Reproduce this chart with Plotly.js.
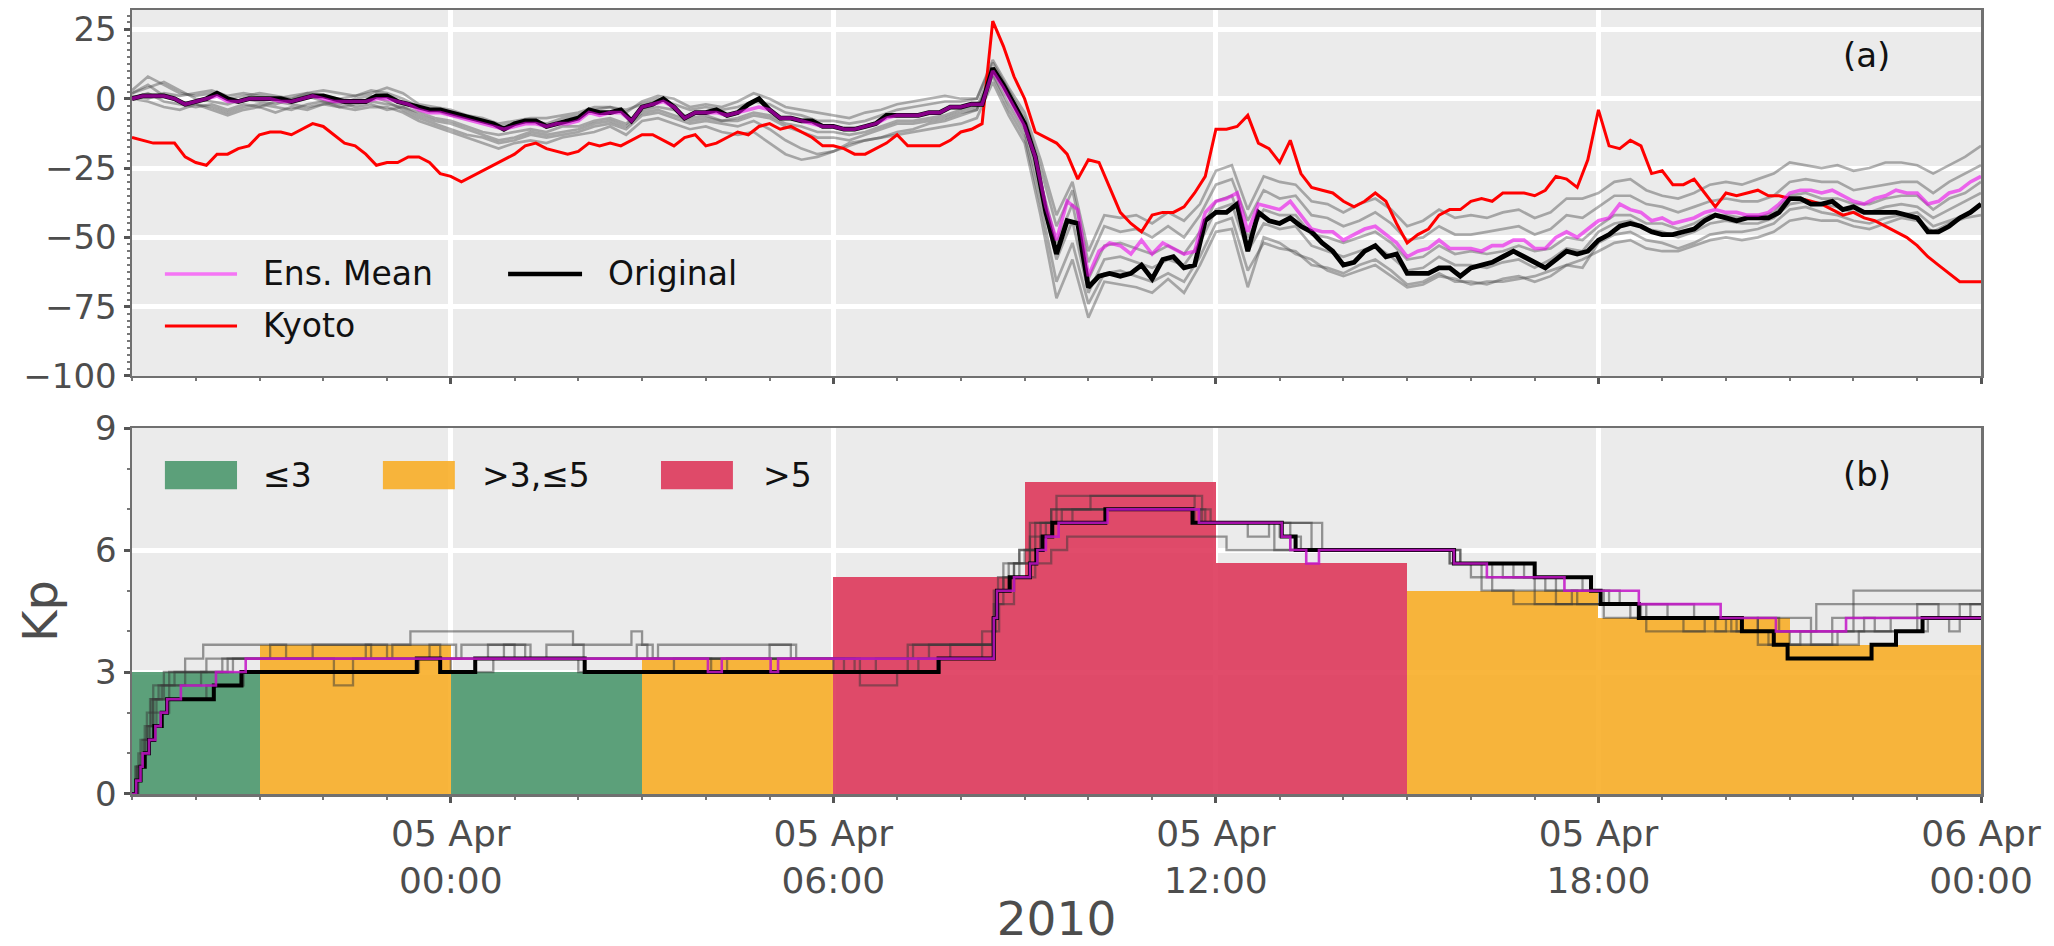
<!DOCTYPE html>
<html>
<head>
<meta charset="utf-8">
<script src="https://cdn.plot.ly/plotly-3.0.1.min.js"></script>
<style>
  html, body { margin: 0; padding: 0; background: #ffffff; }
  #chart { width: 2054px; height: 946px; }
</style>
</head>
<body>
<div id="chart"></div>
<script>
// ---------------------------------------------------------------
// Panel (a): Dst-like index, 10-minute samples,
// 2010-04-04 19:00 .. 2010-04-06 00:00 (one row per hour)
// ---------------------------------------------------------------
const kyoto = [
  -14,-15,-16,-16,-16,-21,   // 04 Apr 19h
  -23,-24,-20,-20,-18,-17,   // 20h
  -13,-12,-12,-13,-11,-9,    // 21h
  -10,-13,-16,-17,-20,-24,   // 22h
  -23,-23,-21,-21,-23,-27,   // 23h
  -28,-30,-28,-26,-24,-22,   // 05 Apr 00h
  -20,-17,-16,-18,-19,-20,
  -19,-16,-17,-16,-17,-15,
  -13,-13,-15,-17,-14,-13,
  -17,-16,-14,-12,-13,-10,
  -9,-11,-10,-12,-14,-17,
  -17,-18,-20,-20,-18,-16,
  -13,-17,-17,-17,-17,-15,
  -12,-11,-9,28,19,8,        // 08h
  0,-12,-14,-16,-20,-29,
  -22,-23,-32,-41,-45,-48,
  -42,-41,-41,-39,-34,-28,
  -11,-11,-10,-6,-16,-18,    // 12h
  -23,-15,-27,-32,-33,-34,
  -37,-39,-37,-34,-37,-45,
  -52,-49,-47,-42,-40,-40,
  -37,-36,-37,-34,-34,-34,
  -35,-33,-28,-29,-32,-22,
  -4,-17,-18,-15,-17,-27,    // 18h
  -26,-31,-31,-29,-34,-39,
  -34,-35,-34,-33,-35,-35,
  -36,-36,-37,-38,-40,-42,
  -41,-43,-44,-46,-48,-50,
  -53,-57,-60,-63,-66,-66,
  -66                        // 06 Apr 00h
];

const original = [
  0,1,1,1,0,-2,
  -1,0,2,0,-1,0,
  0,0,0,-1,0,1,
  1,0,-1,-1,-1,1,
  1,-1,-2,-3,-4,-4,
  -5,-6,-7,-8,-9,-11,
  -9,-8,-8,-10,-9,-8,
  -7,-4,-5,-5,-4,-8,
  -3,-2,0,-3,-7,-5,
  -5,-4,-6,-5,-2,0,
  -4,-7,-7,-8,-8,-10,
  -10,-11,-11,-10,-9,-6,
  -6,-6,-6,-5,-5,-3,
  -3,-2,-2,11,5,-2,
  -9,-21,-41,-56,-44,-45,
  -68,-64,-63,-64,-63,-60,
  -65,-58,-57,-61,-60,-44,
  -41,-41,-38,-55,-41,-44,
  -45,-43,-46,-48,-52,-55,
  -60,-59,-55,-53,-57,-56,
  -63,-63,-63,-61,-61,-64,
  -61,-60,-59,-57,-55,-57,
  -59,-61,-58,-55,-56,-55,
  -51,-49,-46,-45,-46,-48,
  -49,-49,-48,-47,-44,-42,
  -43,-44,-43,-43,-43,-41,
  -36,-36,-38,-38,-37,-40,
  -39,-41,-41,-41,-41,-42,
  -43,-48,-48,-46,-43,-41,
  -38
];

const ensMean = [
  0,1,1,1,0,-2,
  -1,0,1,-1,-1,0,
  0,0,-1,-1,0,1,
  0,-1,-1,-1,-1,0,
  0,-1,-2,-4,-5,-5,
  -6,-7,-8,-9,-10,-11,
  -10,-9,-9,-10,-9,-9,
  -8,-5,-6,-5,-5,-8,
  -3,-2,-1,-3,-7,-5,
  -5,-5,-6,-5,-4,-3,
  -4,-7,-7,-8,-9,-10,
  -10,-11,-11,-10,-9,-7,
  -6,-6,-6,-5,-5,-3,
  -3,-2,-2,10,4,-3,
  -10,-21,-39,-51,-37,-40,
  -64,-55,-52,-53,-56,-51,
  -56,-52,-54,-56,-55,-41,
  -37,-36,-34,-48,-38,-39,
  -40,-37,-42,-47,-48,-48,
  -51,-49,-47,-46,-49,-52,
  -57,-55,-54,-51,-54,-54,
  -54,-55,-53,-53,-51,-51,
  -54,-54,-50,-48,-50,-47,
  -44,-43,-38,-40,-41,-44,
  -43,-45,-44,-43,-41,-40,
  -41,-41,-42,-42,-41,-38,
  -34,-33,-33,-34,-33,-35,
  -37,-38,-36,-35,-33,-34,
  -34,-38,-37,-34,-33,-30,
  -28
];

// Ensemble members, 15-minute samples over the same window
const ens1 = [
  3,8,5,2,1,2,0,1,2,1,0,2,1,0,1,3,2,
  0,-3,-4,-6,-7,-8,-10,-9,-8,-9,-7,-6,-4,-3,-5,
  -1,1,0,-3,-2,-3,-1,2,0,-3,-4,-5,-6,-7,-5,-4,-2,-1,0,1,0,0,
  14,4,-5,-22,-42,-30,-55,-42,-43,-42,-45,-41,-44,-38,-26,-24,
  -40,-28,-30,-31,-37,-38,-41,-38,-36,-40,-46,-44,-40,-43,-42,-43,-41,-40,-43,-41,-36,-36,
  -34,-30,-29,-33,-35,-36,-34,-31,-30,-31,-29,-27,-23,-24,-25,-24,-26,-25,-23,-23,-24,-27,-24,-21,-17
];
const ens2 = [
  2,4,6,3,0,-1,-2,0,-1,-2,0,1,-1,-2,0,1,-1,
  -4,-7,-9,-11,-13,-14,-16,-15,-13,-14,-13,-12,-10,-9,-11,
  -6,-5,-7,-9,-8,-9,-10,-8,-11,-15,-18,-20,-19,-17,-15,-14,-12,-11,-9,-8,-6,-4,
  8,-4,-14,-38,-66,-52,-74,-63,-62,-64,-66,-63,-66,-57,-45,-43,
  -62,-52,-54,-55,-60,-61,-63,-60,-58,-62,-67,-66,-63,-66,-66,-67,-65,-64,-66,-64,-60,-61,
  -52,-49,-48,-51,-52,-54,-52,-49,-48,-48,-47,-45,-40,-39,-41,-42,-44,-45,-43,-42,-41,-46,-44,-42,-38
];
const ens3 = [
  0,-1,-3,-4,-2,-3,-5,-3,-2,-3,-4,-2,-1,-3,-2,-1,-2,
  -3,-5,-7,-8,-10,-12,-13,-12,-11,-12,-10,-10,-8,-7,-9,
  -4,-3,-4,-7,-6,-8,-7,-5,-6,-9,-10,-12,-12,-13,-12,-10,-8,-8,-7,-6,-4,-3,
  11,1,-9,-30,-52,-38,-65,-53,-52,-54,-56,-53,-56,-48,-37,-35,
  -50,-40,-42,-42,-49,-50,-52,-50,-48,-52,-58,-57,-53,-56,-55,-56,-55,-53,-55,-54,-50,-51,
  -46,-42,-42,-45,-45,-47,-45,-42,-42,-43,-43,-41,-35,-34,-36,-36,-38,-38,-36,-35,-35,-40,-36,-34,-30
];
const ens4 = [
  1,0,2,1,2,3,1,2,1,0,1,2,3,2,1,2,4,
  2,-2,-3,-4,-6,-7,-9,-8,-7,-7,-6,-5,-3,-3,-4,
  -2,0,-2,-4,-3,-4,-3,-1,-2,-5,-6,-8,-8,-9,-8,-6,-4,-3,-2,-1,-1,0,
  13,3,-7,-25,-46,-33,-59,-46,-48,-47,-50,-46,-50,-42,-31,-29,
  -44,-33,-36,-35,-42,-43,-46,-44,-41,-45,-51,-50,-46,-49,-49,-48,-47,-46,-49,-47,-42,-43,
  -39,-35,-35,-38,-39,-41,-39,-37,-36,-37,-37,-35,-30,-29,-30,-30,-33,-32,-31,-30,-30,-34,-30,-27,-24
];
const ens5 = [
  0,2,-1,-2,-3,-2,-4,-2,-3,-1,-2,-3,-2,-3,-4,-3,-3,
  -5,-8,-10,-12,-14,-16,-18,-16,-15,-16,-14,-13,-12,-10,-13,
  -8,-7,-9,-11,-10,-12,-13,-12,-16,-20,-22,-21,-19,-16,-15,-14,-13,-12,-11,-10,-9,-7,
  6,-6,-16,-42,-72,-58,-79,-66,-67,-68,-70,-65,-70,-60,-48,-47,
  -68,-50,-52,-56,-58,-62,-64,-62,-60,-64,-68,-67,-64,-65,-67,-66,-66,-65,-64,-62,-60,-58,
  -55,-52,-51,-54,-55,-55,-53,-51,-50,-51,-50,-48,-44,-43,-44,-44,-46,-47,-45,-43,-44,-48,-45,-43,-42
];
const ens6 = [
  2,5,1,-1,-2,-4,-6,-4,-3,-5,-3,-4,-2,-1,-3,-2,-4,
  -3,-6,-8,-9,-11,-13,-15,-14,-12,-13,-12,-11,-9,-8,-10,
  -5,-4,-6,-8,-7,-8,-8,-6,-7,-10,-12,-14,-14,-15,-13,-11,-9,-9,-8,-7,-5,-4,
  9,-2,-12,-34,-58,-44,-70,-58,-57,-59,-61,-58,-60,-52,-40,-38,
  -55,-45,-47,-46,-53,-55,-57,-55,-53,-57,-62,-61,-57,-60,-60,-61,-59,-58,-61,-58,-54,-55,
  -48,-45,-44,-47,-48,-50,-48,-45,-44,-45,-45,-43,-38,-37,-38,-39,-41,-41,-39,-38,-39,-43,-40,-37,-34
];
const ensembleDst = [ens1, ens2, ens3, ens4, ens5, ens6];

// ---------------------------------------------------------------
// Panel (b): Kp
// ---------------------------------------------------------------
// Official 3-hourly Kp (bar start, value)
const kpBarStart = ['2010-04-04 18:00','2010-04-04 21:00','2010-04-05 00:00','2010-04-05 03:00',
                    '2010-04-05 06:00','2010-04-05 09:00','2010-04-05 12:00','2010-04-05 15:00',
                    '2010-04-05 18:00','2010-04-05 21:00'];
const kpBarValue = [3.0, 3.67, 3.0, 3.33, 5.33, 7.67, 5.67, 5.0, 4.33, 3.67];

// Step series: [day-of-April HH:MM, Kp]
const kpOriginal = [
  ['04 19:00',0],['04 19:04',0.33],['04 19:08',0.67],['04 19:12',1.0],['04 19:16',1.33],
  ['04 19:21',1.67],['04 19:28',2.0],['04 19:33',2.33],['04 20:17',2.67],['04 20:43',3.0],
  ['04 23:28',3.33],['04 23:50',3.0],['05 00:23',3.33],['05 02:06',3.0],['05 07:39',3.33],
  ['05 08:31',4.33],['05 08:34',5.0],['05 08:46',5.33],['05 09:05',5.67],['05 09:11',6.0],
  ['05 09:17',6.33],['05 09:26',6.67],['05 10:16',7.0],['05 11:38',6.67],['05 13:02',6.33],
  ['05 13:15',6.0],['05 15:44',5.67],['05 17:00',5.33],['05 17:53',5.0],['05 18:02',4.67],
  ['05 18:38',4.33],['05 20:15',4.0],['05 20:45',3.67],['05 20:58',3.33],['05 22:17',3.67],
  ['05 22:40',4.0],['05 23:05',4.33],['06 00:00',4.33]
];
const kpMean = [
  ['04 19:00',0],['04 19:04',0.33],['04 19:08',0.67],['04 19:10',1.0],['04 19:16',1.33],
  ['04 19:22',1.67],['04 19:27',2.0],['04 19:33',2.33],['04 19:46',2.67],['04 20:19',3.0],
  ['04 20:47',3.33],['05 04:02',3.0],['05 04:15',3.33],['05 05:01',3.0],['05 05:08',3.33],
  ['05 08:31',4.33],['05 08:34',5.0],['05 08:50',5.33],['05 09:05',5.67],['05 09:12',6.0],
  ['05 09:20',6.33],['05 09:32',6.67],['05 10:18',7.0],['05 11:44',6.67],['05 13:02',6.33],
  ['05 13:10',6.0],['05 13:25',5.67],['05 13:37',6.0],['05 15:44',5.67],['05 16:15',5.33],
  ['05 17:28',5.0],['05 18:38',4.67],['05 19:55',4.33],['05 20:47',4.0],['05 21:53',4.33],
  ['06 00:00',4.33]
];
const kpEns1 = [
  ['04 19:00',0],['04 19:03',0.67],['04 19:08',1.33],['04 19:14',2.0],['04 19:20',2.67],
  ['04 19:30',3.0],['04 19:50',3.33],['04 20:07',3.67],['04 23:22',4.0],['05 01:55',3.67],
  ['05 02:50',4.0],['05 03:00',3.67],['05 03:10',3.33],['05 03:15',3.67],['05 05:25',3.33],
  ['05 06:20',3.0],['05 07:10',3.67],['05 08:20',4.0],['05 08:31',5.0],['05 08:40',5.67],
  ['05 08:55',6.0],['05 09:05',6.67],['05 09:25',7.0],['05 10:02',7.33],['05 11:47',6.67],
  ['05 13:40',6.0],['05 15:40',5.67],['05 16:10',5.0],['05 16:40',4.67],['05 17:35',5.0],
  ['05 18:05',4.67],['05 19:05',4.33],['05 20:15',4.0],['05 21:25',4.67],['06 00:00',4.67]
];
const kpEns2 = [
  ['04 19:00',0],['04 19:05',0.67],['04 19:10',1.33],['04 19:17',2.33],['04 19:25',2.67],
  ['04 19:40',3.0],['04 20:10',3.33],['04 21:50',3.67],['04 22:45',3.33],['04 23:05',3.67],
  ['04 23:50',3.33],['05 00:10',3.67],['05 01:10',3.33],['05 01:30',3.67],['05 02:05',3.33],
  ['05 07:30',3.67],['05 08:30',4.0],['05 08:33',5.0],['05 08:45',5.67],['05 09:00',6.0],
  ['05 09:15',6.33],['05 09:25',7.0],['05 11:45',6.67],['05 13:00',6.33],['05 13:20',6.0],
  ['05 15:45',5.67],['05 16:30',5.33],['05 17:00',4.67],['05 18:05',4.33],['05 18:45',4.0],
  ['05 19:40',4.33],['05 20:05',4.0],['05 20:40',3.67],['05 21:40',4.0],['05 22:35',4.33],
  ['05 23:00',4.67],['05 23:20',4.33],['05 23:40',4.67],['06 00:00',4.67]
];
const kpEns3 = [
  ['04 19:00',0],['04 19:04',0.33],['04 19:09',1.0],['04 19:14',1.67],['04 19:20',2.33],
  ['04 19:30',2.67],['04 20:05',3.0],['04 20:35',3.33],['04 22:10',2.67],['04 22:28',3.33],
  ['04 23:40',3.67],['05 00:05',3.33],['05 00:35',3.67],['05 01:00',3.33],['05 06:10',3.0],
  ['05 06:40',3.33],['05 07:50',3.67],['05 08:30',4.33],['05 08:35',5.33],['05 08:50',5.67],
  ['05 09:05',6.33],['05 09:20',6.67],['05 09:45',7.0],['05 11:50',6.67],['05 12:55',6.0],
  ['05 15:45',5.67],['05 16:20',5.0],['05 17:40',4.67],['05 18:40',4.33],['05 19:50',4.0],
  ['05 20:30',4.33],['05 21:20',3.67],['05 21:45',4.0],['05 22:10',4.33],['05 23:30',4.0],
  ['05 23:40',4.33],['06 00:00',4.33]
];
const kpEns4 = [
  ['04 19:00',0],['04 19:05',0.67],['04 19:12',1.33],['04 19:20',2.0],['04 19:35',2.33],
  ['04 20:10',2.67],['04 20:45',3.0],['04 23:30',3.33],['05 00:00',3.0],['05 00:40',3.33],
  ['05 02:00',3.0],['05 03:30',3.33],['05 04:05',3.0],['05 04:20',3.33],['05 06:25',2.67],
  ['05 07:00',3.0],['05 07:40',3.33],['05 08:30',4.0],['05 08:36',4.67],['05 08:50',5.33],
  ['05 09:10',5.67],['05 09:25',6.0],['05 09:40',6.33],['05 12:10',6.0],['05 15:40',5.67],
  ['05 16:00',5.33],['05 17:10',5.0],['05 18:10',4.67],['05 18:45',4.33],['05 20:10',4.0],
  ['05 21:00',3.67],['05 22:05',4.0],['05 23:10',4.33],['05 23:50',4.67],['06 00:00',4.67]
];
const kpEns5 = [
  ['04 19:00',0],['04 19:06',1.0],['04 19:12',1.67],['04 19:18',2.33],['04 19:28',2.67],
  ['04 19:50',3.0],['04 20:30',3.33],['04 21:10',3.67],['04 21:25',3.33],['04 22:40',3.67],
  ['04 23:00',3.33],['05 02:40',3.33],['05 02:55',3.67],['05 03:05',3.33],['05 06:00',3.0],
  ['05 07:20',3.33],['05 08:20',3.67],['05 08:31',4.67],['05 08:40',5.33],['05 08:55',6.0],
  ['05 09:10',6.67],['05 09:30',7.33],['05 11:40',7.0],['05 11:55',6.67],['05 13:30',6.0],
  ['05 15:50',5.67],['05 16:50',5.33],['05 17:45',5.0],['05 18:20',4.67],['05 19:30',4.33],
  ['05 20:50',4.0],['05 21:40',4.33],['05 22:00',5.0],['06 00:00',5.0]
];
const kpEns6 = [
  ['04 19:00',0],['04 19:04',0.67],['04 19:10',1.0],['04 19:16',1.67],['04 19:23',2.33],
  ['04 19:35',3.0],['04 20:25',3.33],['05 00:50',3.67],['05 01:15',3.33],['05 05:00',3.67],
  ['05 05:20',3.33],['05 07:15',3.67],['05 08:30',4.33],['05 08:33',5.0],['05 08:50',5.67],
  ['05 09:05',6.0],['05 09:15',6.67],['05 09:35',7.0],['05 11:40',6.67],['05 12:30',6.33],
  ['05 12:50',6.67],['05 13:10',6.0],['05 15:50',5.67],['05 16:40',5.33],['05 17:20',4.67],
  ['05 18:30',4.33],['05 19:20',4.0],['05 20:00',4.33],['05 20:30',3.67],['05 21:10',4.0],
  ['05 22:00',4.33],['05 22:20',4.0],['05 23:00',4.33],['06 00:00',4.33]
];
const ensembleKp = [kpEns1, kpEns2, kpEns3, kpEns4, kpEns5, kpEns6];

// Axis labelling
const timeRange = ['2010-04-04 19:00', '2010-04-06 00:00'];
const majorTimes = ['2010-04-05 00:00','2010-04-05 06:00','2010-04-05 12:00','2010-04-05 18:00','2010-04-06 00:00'];
const majorLabels = ['05 Apr<br>00:00','05 Apr<br>06:00','05 Apr<br>12:00','05 Apr<br>18:00','06 Apr<br>00:00'];
const kpClassLabels = ['≤3', '>3,≤5', '>5'];

// ---------------------------------------------------------------
// helpers
// ---------------------------------------------------------------
function regularTimes(stepMinutes, n) {
  const t0 = Date.UTC(2010, 3, 4, 19, 0);
  const out = [];
  for (let i = 0; i < n; i++) {
    out.push(new Date(t0 + i * stepMinutes * 60000).toISOString().slice(0, 16).replace('T', ' '));
  }
  return out;
}
function stepX(series) { return series.map(p => '2010-04-' + p[0]); }
function stepY(series) { return series.map(p => p[1]); }

const COLORS = {
  low: '#4c986e', mid: '#f8ae28', high: '#de385b',
  kyoto: '#ff0000', original: '#000000',
  mean: 'rgba(235,0,235,0.58)', meanKp: 'rgba(195,20,200,0.85)',
  ens: 'rgba(70,70,70,0.42)', ensKp: 'rgba(55,55,55,0.5)'
};
function kpClassColor(v) {
  if (v <= 3) return COLORS.low;
  if (v <= 5) return COLORS.mid;
  return COLORS.high;
}

const t10 = regularTimes(10, kyoto.length);
const t15 = regularTimes(15, ens1.length);

const traces = [];

// (a) ensemble members
ensembleDst.forEach(m => traces.push({
  type: 'scatter', mode: 'lines', x: t15, y: m, xaxis: 'x', yaxis: 'y',
  line: { color: COLORS.ens, width: 2.7 }, hoverinfo: 'skip', showlegend: false
}));
traces.push({ type: 'scatter', mode: 'lines', x: t10, y: kyoto, xaxis: 'x', yaxis: 'y',
  line: { color: COLORS.kyoto, width: 3 }, name: 'Kyoto', showlegend: false });
traces.push({ type: 'scatter', mode: 'lines', x: t10, y: original, xaxis: 'x', yaxis: 'y',
  line: { color: COLORS.original, width: 4.8 }, name: 'Original', showlegend: false });
traces.push({ type: 'scatter', mode: 'lines', x: t10, y: ensMean, xaxis: 'x', yaxis: 'y',
  line: { color: COLORS.mean, width: 3.6 }, name: 'Ens. Mean', showlegend: false });

// (b) 3-hourly Kp bars
traces.push({
  type: 'bar', x: kpBarStart, y: kpBarValue, xaxis: 'x2', yaxis: 'y2',
  width: kpBarValue.map(() => 3 * 3600 * 1000), offset: 0,
  marker: { color: kpBarValue.map(kpClassColor), opacity: 0.9, line: { width: 0 } },
  showlegend: false, hoverinfo: 'x+y'
});
ensembleKp.forEach(m => traces.push({
  type: 'scatter', mode: 'lines', x: stepX(m), y: stepY(m), xaxis: 'x2', yaxis: 'y2',
  line: { color: COLORS.ensKp, width: 2.3, shape: 'hv' }, hoverinfo: 'skip', showlegend: false
}));
traces.push({ type: 'scatter', mode: 'lines', x: stepX(kpOriginal), y: stepY(kpOriginal),
  xaxis: 'x2', yaxis: 'y2', line: { color: COLORS.original, width: 4, shape: 'hv' }, showlegend: false });
traces.push({ type: 'scatter', mode: 'lines', x: stepX(kpMean), y: stepY(kpMean),
  xaxis: 'x2', yaxis: 'y2', line: { color: COLORS.meanKp, width: 2.6, shape: 'hv' }, showlegend: false });

// ---------------------------------------------------------------
// layout
// ---------------------------------------------------------------
const FONT = 'DejaVu Sans, sans-serif';
const TICKCOL = '#4d4d4d';

function xAxis(anchor, labels) {
  return {
    type: 'date', anchor: anchor, domain: [0, 1], range: timeRange,
    tickmode: 'array', tickvals: majorTimes, ticktext: majorLabels,
    showticklabels: labels,
    tickfont: { family: FONT, size: 36, color: TICKCOL },
    ticks: 'outside', ticklen: 6, tickwidth: 3, tickcolor: '#555555',
    showgrid: true, gridcolor: '#ffffff', gridwidth: 5,
    showline: true, mirror: true, linecolor: '#707070', linewidth: 2.5,
    zeroline: false,
    minor: { tickmode: 'linear', tick0: '2010-04-04 19:00', dtick: 3600000,
             ticks: 'outside', ticklen: 3, tickwidth: 2, tickcolor: '#777777', showgrid: false }
  };
}
function yAxis(anchor, domain, range, dtick, minorDtick) {
  return {
    anchor: anchor, domain: domain, range: range,
    tickmode: 'linear', tick0: 0, dtick: dtick,
    tickfont: { family: FONT, size: 34, color: TICKCOL },
    ticks: 'outside', ticklen: 6, tickwidth: 3, tickcolor: '#555555',
    showgrid: true, gridcolor: '#ffffff', gridwidth: 5,
    showline: true, mirror: true, linecolor: '#707070', linewidth: 2.5,
    zeroline: false,
    minor: { tickmode: 'linear', tick0: 0, dtick: minorDtick,
             ticks: 'outside', ticklen: 3, tickwidth: 2, tickcolor: '#777777', showgrid: false }
  };
}

const xa = xAxis('y', false);
const xb = xAxis('y2', true);
xb.title = { text: '2010', font: { family: FONT, size: 47, color: TICKCOL }, standoff: 8 };
const ya = yAxis('x', [0.5332, 1], [-100, 32], 25, 2.5);
const yb = yAxis('x2', [0, 0.4668], [0, 9], 3, 1);
yb.title = { text: 'Kp', font: { family: FONT, size: 48, color: TICKCOL }, standoff: 22 };

// hand-placed legends
const shapes = [];
const annotations = [];
function lineKey(xr, yr, x0, x1, y, color, width) {
  shapes.push({ type: 'line', xref: xr, yref: yr, x0: x0, x1: x1, y0: y, y1: y,
                line: { color: color, width: width } });
}
function patchKey(xr, yr, x0, x1, y0, y1, color) {
  shapes.push({ type: 'rect', xref: xr, yref: yr, x0: x0, x1: x1, y0: y0, y1: y1,
                fillcolor: color, opacity: 0.9, line: { width: 0 } });
}
function label(xr, yr, x, y, text, size) {
  annotations.push({ xref: xr, yref: yr, x: x, y: y, text: text, showarrow: false,
                     xanchor: 'left', yanchor: 'middle',
                     font: { family: FONT, size: size, color: '#111111' } });
}

// panel (a) legend
lineKey('x domain', 'y domain', 0.0178, 0.0568, 0.2787, 'rgba(255,0,255,0.5)', 3.4);
label('x domain', 'y domain', 0.0700, 0.2787, 'Ens. Mean', 33);
lineKey('x domain', 'y domain', 0.0178, 0.0568, 0.1366, COLORS.kyoto, 3);
label('x domain', 'y domain', 0.0700, 0.1366, 'Kyoto', 33);
lineKey('x domain', 'y domain', 0.2034, 0.2434, 0.2787, COLORS.original, 4.5);
label('x domain', 'y domain', 0.2566, 0.2787, 'Original', 33);

// panel (b) legend
patchKey('x2 domain', 'y2 domain', 0.0178, 0.0568, 0.833, 0.910, COLORS.low);
label('x2 domain', 'y2 domain', 0.0700, 0.8716, kpClassLabels[0], 33);
patchKey('x2 domain', 'y2 domain', 0.1357, 0.1746, 0.833, 0.910, COLORS.mid);
label('x2 domain', 'y2 domain', 0.1880, 0.8716, kpClassLabels[1], 33);
patchKey('x2 domain', 'y2 domain', 0.2861, 0.3250, 0.833, 0.910, COLORS.high);
label('x2 domain', 'y2 domain', 0.3400, 0.8716, kpClassLabels[2], 33);

// panel tags
annotations.push({ xref: 'x domain', yref: 'y domain', x: 0.9383, y: 0.877, text: '(a)',
  showarrow: false, xanchor: 'center', yanchor: 'middle', font: { family: FONT, size: 34, color: '#111111' } });
annotations.push({ xref: 'x2 domain', yref: 'y2 domain', x: 0.9383, y: 0.874, text: '(b)',
  showarrow: false, xanchor: 'center', yanchor: 'middle', font: { family: FONT, size: 34, color: '#111111' } });

const layout = {
  width: 2054, height: 946,
  margin: { l: 132, r: 73, t: 10, b: 152 },
  paper_bgcolor: '#ffffff', plot_bgcolor: '#ebebeb',
  font: { family: FONT, color: TICKCOL },
  showlegend: false,
  bargap: 0,
  xaxis: xa, yaxis: ya, xaxis2: xb, yaxis2: yb,
  shapes: shapes, annotations: annotations
};

Plotly.newPlot('chart', traces, layout, { staticPlot: true, displayModeBar: false });
</script>
</body>
</html>
